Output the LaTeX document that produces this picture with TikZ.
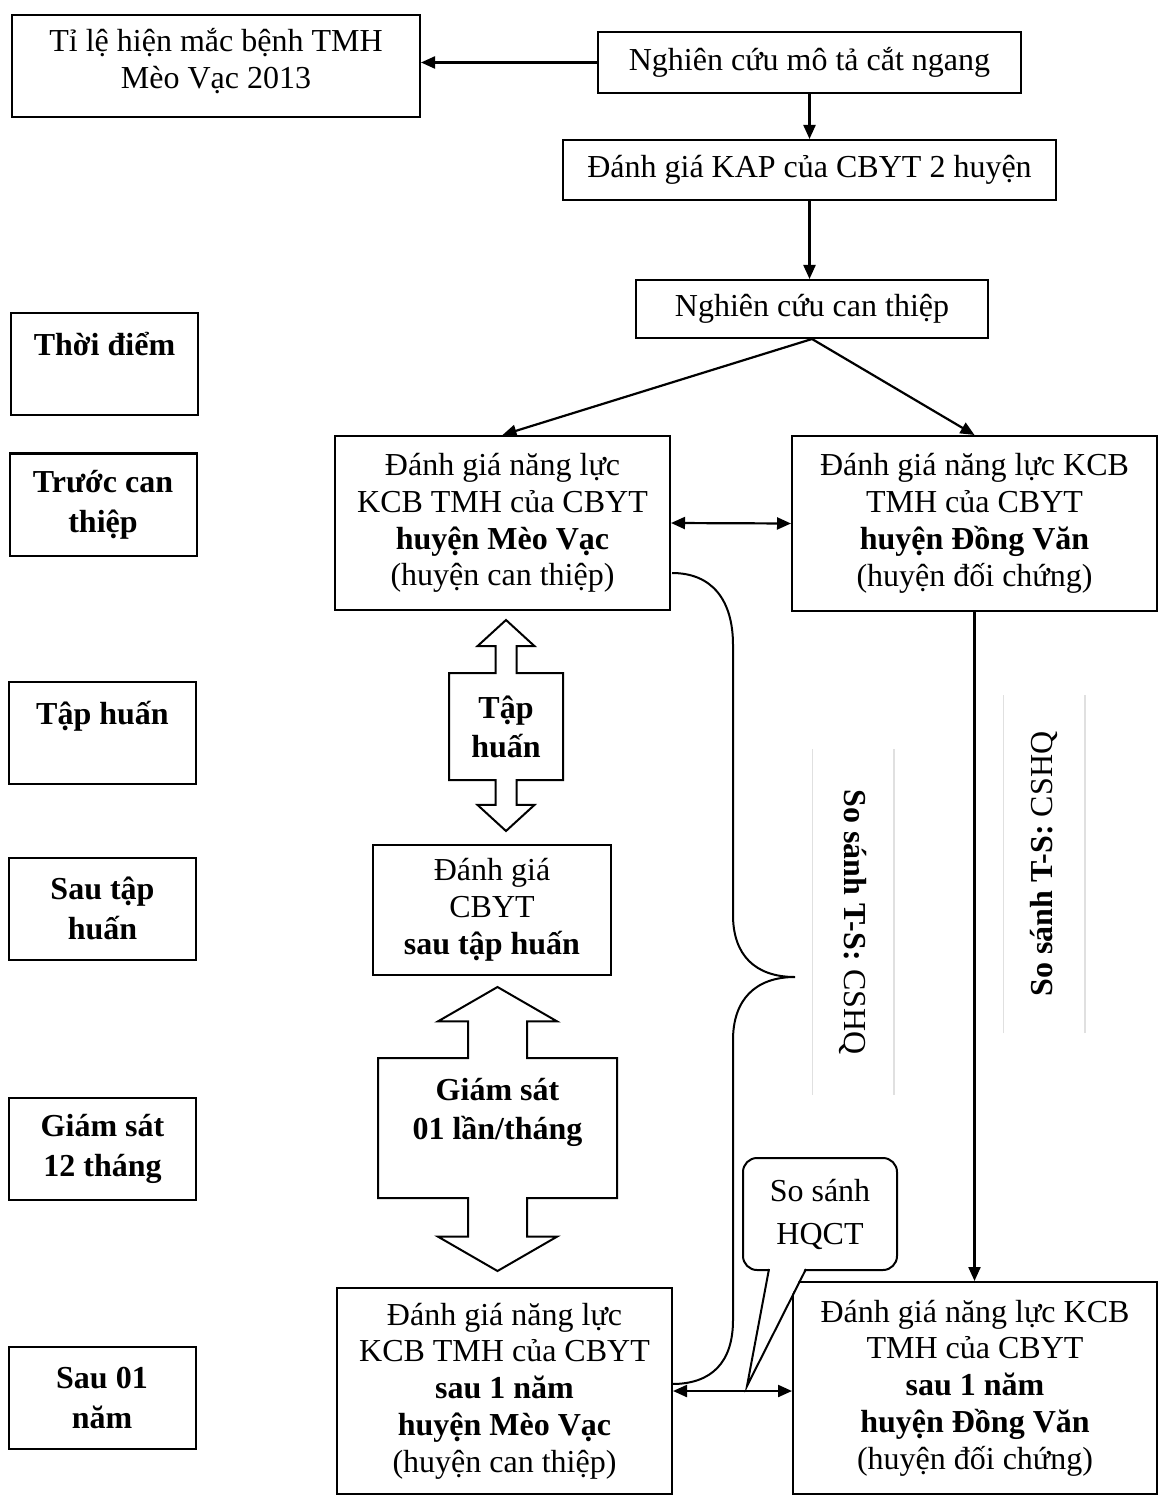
\documentclass[tikz,border=0pt]{standalone}
\usepackage{fontspec}
\setmainfont{Liberation Serif}
\usetikzlibrary{arrows.meta,shapes.arrows}
\tikzset{
stepboxv1/.style={rectangle, draw=black, line width=1pt, align=center, inner sep=2pt, font=\fontsize{16}{18.4}\selectfont},
timeboxv1/.style={rectangle, draw=black, line width=1pt, align=center, inner sep=2pt, minimum width=93.5pt, minimum height=51pt, font=\bfseries\fontsize{16}{20}\selectfont},
arrowboxv1/.style={arrow box, draw=black, line width=1pt, align=center, inner sep=1pt, arrow box head indent=0pt, font=\bfseries\fontsize{16}{19.5}\selectfont},
calloutboxv1/.style={rectangle, rounded corners=7pt, draw=black, fill=white, line width=1pt, align=center, minimum width=77pt, minimum height=56pt, font=\fontsize{16}{21.5}\selectfont},
sidetextv1/.style={inner sep=0pt, minimum height=40.5pt, font=\fontsize{16}{18}\selectfont},
faintline/.style={draw=black!12, line width=0.6pt},
linkarrow/.style={line width=1.1pt, -{Triangle[length=7pt,width=6pt]}},
linkboth/.style={line width=1.1pt, {Triangle[length=7pt,width=6pt]}-{Triangle[length=7pt,width=6pt]}},
}
\begin{document}
\begin{tikzpicture}[x=0.5pt,y=-0.5pt]
    \useasboundingbox (0,0) rectangle (1162,1497);
    % top of the flow
    \node[stepboxv1, minimum width=204pt, minimum height=51pt] at (216,66) (tl) {Tỉ lệ hiện mắc bệnh TMH\\Mèo Vạc 2013\\[-11pt]~};
    \node[stepboxv1, minimum width=211.5pt, minimum height=30.5pt] at (809.5,62.5) (ncmt) {Nghiên cứu mô tả cắt ngang};
    \node[stepboxv1, minimum width=246.5pt, minimum height=30pt] at (809.5,170) (kap) {Đánh giá KAP của CBYT 2 huyện};
    \node[stepboxv1, minimum width=176pt, minimum height=29pt] at (812,309) (ncct) {Nghiên cứu can thiệp};
    % the two districts
    \node[stepboxv1, minimum width=167.5pt, minimum height=87pt] at (502.5,523) (mv1) {Đánh giá năng lực\\KCB TMH của CBYT\\\textbf{huyện Mèo Vạc}\\(huyện can thiệp)};
    \node[stepboxv1, minimum width=182.5pt, minimum height=87.5pt] at (974.5,523.5) (dv1) {Đánh giá năng lực KCB\\TMH của CBYT\\\textbf{huyện Đồng Văn}\\(huyện đối chứng)};
    \node[arrowboxv1, minimum width=57pt, minimum height=53.5pt, arrow box arrows={north:26pt, south:25pt}, arrow box shaft width=10.5pt, arrow box head extend=9pt, arrow box tip angle=95] at (506,726.5) (thbox) {Tập\\huấn};
    \node[stepboxv1, minimum width=119pt, minimum height=65pt] at (492,910) (sth) {Đánh giá\\CBYT\\\textbf{sau tập huấn}};
    \node[arrowboxv1, minimum width=119.5pt, minimum height=70pt, arrow box arrows={north:35pt, south:36pt}, arrow box shaft width=29.5pt, arrow box head extend=15pt, arrow box tip angle=120] at (497.5,1128) (gsbox) {Giám sát\\01 lần/tháng\\~};
    \node[stepboxv1, minimum width=167.5pt, minimum height=103pt] at (504.5,1391) (mv2) {Đánh giá năng lực\\KCB TMH của CBYT\\\textbf{sau 1 năm}\\\textbf{huyện Mèo Vạc}\\(huyện can thiệp)};
    \node[stepboxv1, minimum width=182pt, minimum height=106pt] at (975,1388) (dv2) {Đánh giá năng lực KCB\\TMH của CBYT\\\textbf{sau 1 năm}\\\textbf{huyện Đồng Văn}\\(huyện đối chứng)};
    % time column
    \node[timeboxv1] at (104.5,364) (td) {Thời điểm\\~};
    \node[timeboxv1] at (103,504.5) (tct) {Trước can\\thiệp};
    \node[timeboxv1] at (102.5,733) (tth) {Tập huấn\\~};
    \node[timeboxv1] at (102.5,908.5) (tsth) {Sau tập\\huấn};
    \node[timeboxv1] at (102.5,1148.5) (tgs) {Giám sát\\12 tháng};
    \node[timeboxv1] at (102,1398) (tsn) {Sau 01\\năm};
    % connectors
    \draw[linkarrow] (ncmt.west) -- (ncmt.west -| tl.east);
    \draw[linkarrow] (ncmt.south) -- (ncmt.south |- kap.north);
    \draw[linkarrow] (kap.south) -- (kap.south |- ncct.north);
    \draw[linkarrow] (ncct.south) -- (mv1.north);
    \draw[linkarrow] (ncct.south) -- (dv1.north);
    \draw[linkboth] (mv1.east) -- (dv1.west);
    \draw[linkarrow] (dv1.south) -- (dv1.south |- dv2.north);
    \draw[linkboth] (mv2.east) -- (mv2.east -| dv2.west);
    % brace
    \draw[line width=1pt] (672,573) .. controls (712,573) and (733,600) .. (733,645) -- (733,915)
        .. controls (733,955) and (755,977) .. (795,977) .. controls (755,977) and (733,1000) .. (733,1040)
        -- (733,1320) .. controls (733,1362) and (712,1384) .. (672,1384);
    % side notes
    \node[sidetextv1, rotate=-90, minimum width=172.5pt] at (853,922) (cs1) {\textbf{So sánh T-S:} CSHQ};
    \draw[faintline] (cs1.north west) -- (cs1.north east);
    \draw[faintline] (cs1.south west) -- (cs1.south east);
    \node[sidetextv1, rotate=90, minimum width=169pt] at (1044,864) (cs2) {\textbf{So sánh T-S:} CSHQ};
    \draw[faintline] (cs2.north west) -- (cs2.north east);
    \draw[faintline] (cs2.south west) -- (cs2.south east);
    % callout
    \node[calloutboxv1] at (820,1214) (hq) {So sánh\\HQCT};
    \coordinate (hqtip) at (747,1386);
    \fill[white] (769,1266) -- (hqtip) -- (806,1266) -- cycle;
    \draw[line width=1pt] (769,1269) -- (hqtip) -- (806,1269);
\end{tikzpicture}
\end{document}
